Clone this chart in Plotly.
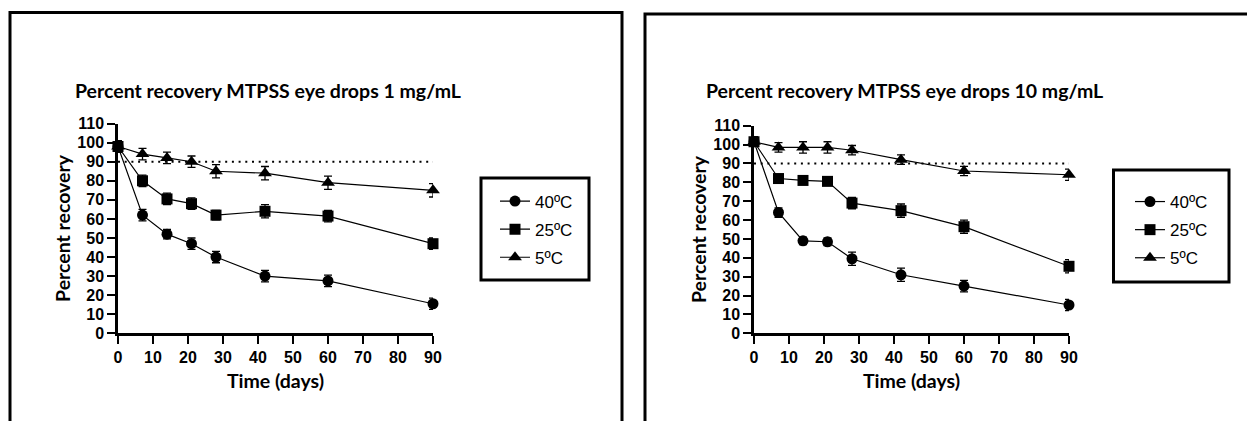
import plotly.graph_objects as go

W, H = 1247, 421

days = [0, 7, 14, 21, 28, 42, 60, 90]
series_names = ["40ºC", "25ºC", "5ºC"]
symbols = ["circle", "square", "triangle-up"]

# 1 mg/mL
p1_40 = [98, 62, 52, 47, 40, 30, 27.5, 15.5]
p1_25 = [98, 80, 70.5, 68, 62, 64, 61.5, 47]
p1_5 = [98, 94, 92, 90, 85, 84, 79, 75]
e1_40 = [3, 3, 2.5, 3, 3, 3, 3, 3]
e1_25 = [3, 3, 3, 3, 2.5, 3.5, 3, 3]
e1_5 = [3, 3, 3, 3, 3.5, 3.5, 3.5, 3.5]

# 10 mg/mL
p2_40 = [101.5, 64, 49, 48.5, 39.5, 31, 25, 15]
p2_25 = [101.5, 82, 81, 80.5, 69, 65, 56.5, 35.5]
p2_5 = [101.5, 98.5, 98.5, 98.5, 97, 92, 86, 84]
e2_40 = [2.5, 2.5, 2, 2, 3.5, 3.5, 3, 3]
e2_25 = [2.5, 1.5, 1.5, 1.5, 3, 3.5, 3.5, 3.5]
e2_5 = [2.5, 2.5, 3, 3, 2.5, 2.5, 2.5, 3]

threshold = 90
titles = ["Percent recovery MTPSS eye drops 1 mg/mL", "Percent recovery MTPSS eye drops 10 mg/mL"]

def px(x):
    return x / W

def py(y):
    return 1 - y / H

fig = go.Figure()

panels = [
    ([p1_40, p1_25, p1_5], [e1_40, e1_25, e1_5], "x", "y", "legend"),
    ([p2_40, p2_25, p2_5], [e2_40, e2_25, e2_5], "x2", "y2", "legend2"),
]

for vals, errs, xa, ya, lg in panels:
    for name, sym, v, e in zip(series_names, symbols, vals, errs):
        fig.add_trace(go.Scatter(
            x=days, y=v, name=name, mode="lines+markers",
            xaxis=xa, yaxis=ya, legend=lg, legendgroup=lg + name,
            line=dict(color="black", width=1.2),
            marker=dict(symbol=sym, size=11 if sym != "triangle-up" else 12, color="black"),
            error_y=dict(type="data", array=e, visible=True, color="black", thickness=1.3, width=4),
            cliponaxis=False,
        ))
    fig.add_trace(go.Scatter(
        x=[days[0], days[-1]], y=[threshold, threshold], mode="lines",
        xaxis=xa, yaxis=ya, showlegend=False, hoverinfo="skip",
        line=dict(color="black", width=2, dash="2px,4.7px"),
    ))

tickfont = dict(family="Liberation Sans, Arial", size=16, color="black", weight="bold")
titlefont = dict(family="Lato, Open Sans", size=19.5, color="black", weight="bold")

def xaxis_cfg(d):
    return dict(domain=d, range=[0, 90], tickvals=list(range(0, 91, 10)),
                showline=True, linecolor="black", linewidth=2.5, ticks="outside",
                ticklen=8, tickwidth=2.2, tickcolor="black",
                tickfont=tickfont, showgrid=False, zeroline=False, automargin=False,
                title=dict(text="Time (days)", font=titlefont, standoff=10),
                fixedrange=True)

def yaxis_cfg(d, anchor):
    return dict(domain=d, range=[0, 110], tickvals=list(range(0, 111, 10)),
                showline=True, linecolor="black", linewidth=2.5, ticks="outside",
                ticklen=8, tickwidth=2.2, tickcolor="black",
                tickfont=tickfont, showgrid=False, zeroline=False, automargin=False,
                title=dict(text="Percent recovery", font=titlefont, standoff=2),
                anchor=anchor, fixedrange=True)

legfont = dict(family="Liberation Sans, Arial", size=17, color="black")

fig.update_layout(
    width=W, height=H,
    margin=dict(l=0, r=0, t=0, b=0, pad=0, autoexpand=False),
    paper_bgcolor="white", plot_bgcolor="white",
    showlegend=True,
    xaxis=dict(xaxis_cfg([px(118), px(433)]), anchor="y"),
    yaxis=yaxis_cfg([py(333.3), py(123.6)], "x"),
    xaxis2=dict(xaxis_cfg([px(754), px(1069)]), anchor="y2"),
    yaxis2=yaxis_cfg([py(333.3), py(125.7)], "x2"),
    legend=dict(x=px(495), y=py(183.5), xanchor="left", yanchor="top",
                bgcolor="rgba(0,0,0,0)", borderwidth=0, font=legfont,
                tracegroupgap=3, itemwidth=30),
    legend2=dict(x=px(1130), y=py(184), xanchor="left", yanchor="top",
                 bgcolor="rgba(0,0,0,0)", borderwidth=0, font=legfont,
                 tracegroupgap=3, itemwidth=30),
    shapes=[
        dict(type="rect", xref="paper", yref="paper", x0=px(10), x1=px(622), y0=py(440), y1=py(12.5),
             line=dict(color="black", width=3)),
        dict(type="rect", xref="paper", yref="paper", x0=px(645), x1=px(1265), y0=py(440), y1=py(14),
             line=dict(color="black", width=3)),
        dict(type="rect", xref="paper", yref="paper", x0=px(481), x1=px(589), y0=py(280), y1=py(178),
             line=dict(color="black", width=3)),
        dict(type="rect", xref="paper", yref="paper", x0=px(1113.5), x1=px(1229), y0=py(282), y1=py(170),
             line=dict(color="black", width=3)),
    ],
    annotations=[
        dict(text=titles[0], x=px(73), y=py(90), xref="paper", yref="paper",
             xanchor="left", yanchor="middle", showarrow=False,
             font=dict(family="Lato, Open Sans", size=19.5, color="black", weight="bold")),
        dict(text=titles[1], x=px(704), y=py(90), xref="paper", yref="paper",
             xanchor="left", yanchor="middle", showarrow=False,
             font=dict(family="Lato, Open Sans", size=19.5, color="black", weight="bold")),
    ],
)

fig.write_html("out.html", config={"displayModeBar": False},
               post_script="document.body.style.margin='0px';")
